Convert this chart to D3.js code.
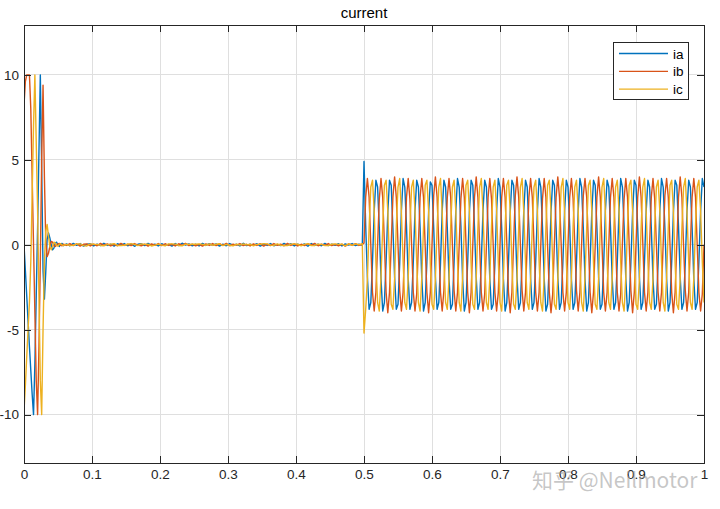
<!DOCTYPE html>
<html>
<head>
<meta charset="utf-8">
<script src="https://cdnjs.cloudflare.com/ajax/libs/d3/7.8.5/d3.min.js"></script>
<style>
  body { margin: 0; background: #fff; }
  svg { display: block; }
</style>
</head>
<body>
<svg id="chart" width="720" height="509"></svg>
<script>
// series names + colours (matlab default order)
var names = ['ia', 'ib', 'ic'];
var colors = ['#0072BD', '#D95319', '#EDB120'];

var xTicks = [0, 0.1, 0.2, 0.3, 0.4, 0.5, 0.6, 0.7, 0.8, 0.9, 1];
var yTicks = [-10, -5, 0, 5, 10];

// start-up transient, sampled every 2 ms from t = 0
var startT0 = 0, startDt = 0.002;
var startIa = [0, -1.5, -3.0, -4.5, -6.0, -7.4, -8.8, -10, -7.0, -3.0, 1.0, 5.5, 10, 4.5, -1.5, -3.2,
  -1.6, 0.3, 0.7, 0.4, 0.0, -0.3, -0.2, 0.1, 0.15, 0.0, -0.1, 0.05, 0.08, -0.05, 0.0];
var startIb = [8.2, 9.6, 10, 10, 10, 8.0, 4.0, 0.0, -4.0, -8.0, -10, -6.0, -1.0, 5.0, 9.4, 4.0,
  0.2, -0.7, -0.5, -0.1, 0.2, 0.15, -0.05, -0.1, 0.0, 0.05, 0.08, -0.04, -0.06, 0.03, 0.0];
var startIc = [-9.8, -8.3, -6.6, -5.0, -3.4, -1.0, 3.0, 7.0, 10, 6.0, 2.0, -3.0, -8.0, -10, -5.0, -1.0,
  0.8, 1.2, 0.5, -0.1, -0.3, -0.1, 0.15, 0.1, -0.05, -0.08, 0.04, 0.06, -0.02, -0.05, 0.0];

// idle part (small ripple round zero), every 5 ms from t = 0.0625
var idleT0 = 0.0625, idleDt = 0.005;
var idleIa = [
  0.05, -0.06, 0.08, -0.03, 0.07, -0.08, 0.02, 0.06, -0.07, 0.04, -0.05,
  0.09, -0.04, 0.03, -0.08, 0.06, -0.02, 0.07, -0.06, 0.05, -0.09, 0.03,
  0.06, -0.05, 0.08, -0.03, 0.04, -0.07, 0.06, -0.04, 0.02, -0.08, 0.07,
  -0.05, 0.09, -0.02, 0.05, -0.06, 0.03, -0.07, 0.08, -0.04, 0.06, -0.03,
  0.05, -0.08, 0.04, -0.06, 0.07, -0.02, 0.03, -0.07, 0.09, -0.05, 0.04,
  -0.03, 0.06, -0.08, 0.05, -0.04, 0.07, -0.06, 0.02, -0.05, 0.08, -0.03,
  0.06, -0.07, 0.04, -0.02, 0.05, -0.09, 0.07, -0.04, 0.03, -0.06, 0.08,
  -0.05, 0.04, -0.03, 0.06, -0.07, 0.05, -0.02, 0.07, -0.05, 0.03, -0.04];
var idleIb = [
  -0.04, 0.07, -0.05, 0.06, -0.08, 0.03, 0.05, -0.07, 0.04, -0.06, 0.08,
  -0.03, 0.05, -0.07, 0.02, -0.06, 0.08, -0.04, 0.03, -0.05, 0.07, -0.02,
  -0.06, 0.04, -0.08, 0.05, -0.03, 0.07, -0.05, 0.06, -0.04, 0.03, -0.07,
  0.06, -0.03, 0.08, -0.05, 0.04, -0.06, 0.02, -0.08, 0.05, -0.04, 0.07,
  -0.05, 0.06, -0.03, 0.08, -0.06, 0.04, -0.02, 0.07, -0.05, 0.03, -0.07,
  0.05, -0.04, 0.06, -0.08, 0.03, -0.05, 0.07, -0.03, 0.04, -0.06, 0.08,
  -0.04, 0.05, -0.07, 0.03, -0.05, 0.06, -0.02, 0.08, -0.06, 0.04, -0.03,
  0.07, -0.05, 0.02, -0.06, 0.04, -0.08, 0.05, -0.03, 0.06, -0.04, 0.02];
var idleIc = [
  0.02, -0.05, -0.03, 0.04, 0.06, -0.05, -0.07, 0.05, 0.03, 0.02, -0.04,
  -0.06, 0.01, 0.04, 0.06, -0.04, -0.05, -0.03, 0.03, 0.07, 0.02, -0.05,
  0.05, 0.02, 0.03, -0.07, -0.02, 0.04, -0.02, -0.06, 0.05, 0.05, 0.04,
  -0.04, -0.06, 0.04, 0.02, 0.03, 0.03, 0.05, 0.02, -0.03, 0.05, -0.04,
  0.03, 0.06, -0.05, 0.02, -0.03, -0.06, 0.04, -0.02, 0.05, -0.01, 0.03,
  -0.06, 0.02, 0.03, 0.07, 0.05, -0.02, -0.04, 0.05, -0.03, -0.04, -0.05,
  0.04, 0.05, 0.03, -0.06, 0.02, 0.07, -0.05, -0.04, 0.04, 0.02, -0.05,
  -0.05, 0.03, 0.05, 0.02, 0.04, -0.06, 0.05, -0.04, 0.05, 0.01, 0.06];

// loaded part from t = 0.5, every 2.5 ms (8 samples per 50 Hz cycle, one row per cycle)
var runT0 = 0.5, runDt = 0.0025;
var runIa = [
  4.9, 1.1, -1.9, -3.8, -3.4, -1.0, 2.0, 3.8,
  3.4, 1.0, -2.0, -3.9, -3.4, -1.0, 1.9, 3.8,
  3.5, 1.0, -1.9, -3.8, -3.5, -1.1, 2.0, 3.9,
  3.4, 1.1, -2.0, -3.8, -3.4, -1.0, 2.0, 3.8,
  3.4, 1.0, -2.0, -3.9, -3.4, -1.0, 1.9, 3.7,
  3.5, 1.0, -1.9, -3.8, -3.4, -1.1, 2.0, 3.8,
  3.4, 1.0, -2.0, -3.8, -3.5, -1.0, 2.0, 3.9,
  3.4, 1.1, -2.0, -3.9, -3.4, -1.0, 1.9, 3.8,
  3.5, 1.0, -1.9, -3.8, -3.4, -1.0, 2.0, 3.8,
  3.4, 1.0, -2.0, -3.8, -3.5, -1.1, 2.0, 3.9,
  3.4, 1.0, -2.0, -3.9, -3.4, -1.0, 1.9, 3.8,
  3.5, 1.1, -1.9, -3.8, -3.4, -1.0, 2.0, 3.8,
  3.4, 1.0, -2.0, -3.8, -3.4, -1.0, 2.0, 3.9,
  3.4, 1.0, -2.0, -3.9, -3.5, -1.1, 1.9, 3.8,
  3.5, 1.0, -1.9, -3.8, -3.4, -1.0, 2.0, 3.8,
  3.4, 1.1, -2.0, -3.8, -3.4, -1.0, 2.0, 3.9,
  3.4, 1.0, -2.0, -3.9, -3.4, -1.0, 1.9, 3.8,
  3.5, 1.0, -1.9, -3.8, -3.5, -1.1, 2.0, 3.8,
  3.4, 1.0, -2.0, -3.8, -3.4, -1.0, 2.0, 3.9,
  3.4, 1.1, -2.0, -3.9, -3.4, -1.0, 1.9, 3.8,
  3.5, 1.0, -1.9, -3.8, -3.4, -1.0, 2.0, 3.8,
  3.4, 1.0, -2.0, -3.8, -3.5, -1.1, 2.0, 3.9,
  3.4, 1.0, -2.0, -3.9, -3.4, -1.0, 1.9, 3.8,
  3.5, 1.1, -1.9, -3.8, -3.4, -1.0, 2.0, 3.8,
  3.4, 1.0, -2.0, -3.8, -3.4, -1.0, 2.0, 3.9,
  3.4];
var runIb = [
  0.1, 2.8, 3.9, 2.8, 0.0, -2.8, -3.9, -2.8,
  0.0, 2.7, 3.9, 2.8, 0.1, -2.8, -4.0, -2.8,
  0.0, 2.8, 4.0, 2.8, 0.0, -2.7, -3.9, -2.8,
  0.1, 2.8, 3.9, 2.7, 0.0, -2.8, -3.9, -2.9,
  0.0, 2.8, 3.9, 2.8, -0.1, -2.8, -4.0, -2.8,
  0.0, 2.9, 4.0, 2.8, 0.0, -2.8, -3.9, -2.7,
  0.1, 2.8, 3.9, 2.8, 0.0, -2.7, -3.9, -2.8,
  0.0, 2.7, 3.9, 2.8, 0.1, -2.8, -4.0, -2.8,
  0.0, 2.8, 4.0, 2.8, 0.0, -2.8, -3.9, -2.9,
  -0.1, 2.8, 3.9, 2.7, 0.0, -2.8, -3.9, -2.8,
  0.0, 2.8, 3.9, 2.8, 0.1, -2.8, -4.0, -2.8,
  0.1, 2.9, 4.0, 2.8, 0.0, -2.7, -3.9, -2.8,
  0.0, 2.8, 3.9, 2.8, 0.0, -2.8, -3.9, -2.8,
  0.0, 2.7, 3.9, 2.8, -0.1, -2.8, -4.0, -2.9,
  0.1, 2.8, 4.0, 2.8, 0.0, -2.8, -3.9, -2.8,
  0.0, 2.8, 3.9, 2.7, 0.0, -2.7, -3.9, -2.8,
  0.0, 2.9, 3.9, 2.8, 0.1, -2.8, -4.0, -2.8,
  -0.1, 2.8, 4.0, 2.8, 0.0, -2.8, -3.9, -2.8,
  0.0, 2.8, 3.9, 2.8, 0.0, -2.8, -3.9, -2.9,
  0.1, 2.7, 3.9, 2.8, 0.0, -2.7, -4.0, -2.8,
  0.0, 2.8, 4.0, 2.8, 0.1, -2.8, -3.9, -2.8,
  0.0, 2.8, 3.9, 2.7, 0.0, -2.8, -3.9, -2.8,
  0.1, 2.9, 3.9, 2.8, 0.0, -2.8, -4.0, -2.8,
  0.0, 2.8, 4.0, 2.8, -0.1, -2.7, -3.9, -2.8,
  0.0, 2.8, 3.9, 2.8, 0.0, -2.8, -3.9, -2.9,
  0.0];
var runIc = [
  -5.2, -3.8, -2.0, 1.0, 3.4, 3.8, 2.0, -1.0,
  -3.4, -3.9, -1.9, 1.0, 3.5, 3.8, 2.0, -1.1,
  -3.5, -3.8, -2.0, 1.1, 3.4, 3.9, 1.9, -1.0,
  -3.4, -3.8, -2.0, 1.0, 3.4, 3.8, 2.0, -1.0,
  -3.4, -3.9, -1.9, 1.0, 3.5, 3.8, 2.0, -1.1,
  -3.5, -3.8, -2.0, 1.0, 3.4, 3.9, 1.9, -1.0,
  -3.4, -3.8, -2.0, 1.1, 3.4, 3.8, 2.0, -1.0,
  -3.4, -3.9, -1.9, 1.0, 3.5, 3.8, 2.0, -1.1,
  -3.5, -3.8, -2.0, 1.0, 3.4, 3.9, 1.9, -1.0,
  -3.4, -3.8, -2.0, 1.1, 3.4, 3.8, 2.0, -1.0,
  -3.4, -3.9, -1.9, 1.0, 3.5, 3.8, 2.0, -1.1,
  -3.5, -3.8, -2.0, 1.0, 3.4, 3.9, 1.9, -1.0,
  -3.4, -3.8, -2.0, 1.1, 3.4, 3.8, 2.0, -1.0,
  -3.4, -3.9, -1.9, 1.0, 3.5, 3.8, 2.0, -1.1,
  -3.5, -3.8, -2.0, 1.0, 3.4, 3.9, 1.9, -1.0,
  -3.4, -3.8, -2.0, 1.1, 3.4, 3.8, 2.0, -1.0,
  -3.4, -3.9, -1.9, 1.0, 3.5, 3.8, 2.0, -1.1,
  -3.5, -3.8, -2.0, 1.0, 3.4, 3.9, 1.9, -1.0,
  -3.4, -3.8, -2.0, 1.1, 3.4, 3.8, 2.0, -1.0,
  -3.4, -3.9, -1.9, 1.0, 3.5, 3.8, 2.0, -1.1,
  -3.5, -3.8, -2.0, 1.0, 3.4, 3.9, 1.9, -1.0,
  -3.4, -3.8, -2.0, 1.1, 3.4, 3.8, 2.0, -1.0,
  -3.4, -3.9, -1.9, 1.0, 3.5, 3.8, 2.0, -1.1,
  -3.5, -3.8, -2.0, 1.0, 3.4, 3.9, 1.9, -1.0,
  -3.4, -3.8, -2.0, 1.1, 3.4, 3.8, 2.0, -1.0,
  -3.4];

// glue the three pieces of each phase together into {t, v} points
function seg(t0, dt, vals) {
    return vals.map(function (v, i) { return {t: t0 + i * dt, v: v}; });
}
var series = [
    seg(startT0, startDt, startIa).concat(seg(idleT0, idleDt, idleIa), seg(runT0, runDt, runIa)),
    seg(startT0, startDt, startIb).concat(seg(idleT0, idleDt, idleIb), seg(runT0, runDt, runIb)),
    seg(startT0, startDt, startIc).concat(seg(idleT0, idleDt, idleIc), seg(runT0, runDt, runIc))
];

// plot box in pixels (note: "top" is taken by window.top, so use other names)
var pLeft = 24, pRight = 704, pTop = 25, pBottom = 463;
var axisCol = '#262626';
var font = '"Liberation Sans", Arial, sans-serif';

var svg = d3.select('#chart');

var x = d3.scaleLinear().domain([0, 1]).range([pLeft, pRight]);
var y = d3.scaleLinear().domain([-12.85, 12.94]).range([pBottom, pTop]);

// grid
var grid = svg.append('g').attr('shape-rendering', 'crispEdges');
grid.selectAll('.gx').data(xTicks.slice(1, -1)).enter().append('line')
    .attr('x1', function (d) { return x(d); }).attr('x2', function (d) { return x(d); })
    .attr('y1', pTop).attr('y2', pBottom)
    .attr('stroke', '#dfdfdf');
grid.selectAll('.gy').data(yTicks).enter().append('line')
    .attr('y1', function (d) { return y(d); }).attr('y2', function (d) { return y(d); })
    .attr('x1', pLeft).attr('x2', pRight)
    .attr('stroke', '#dfdfdf');

// the three currents
svg.append('clipPath').attr('id', 'plotclip').append('rect')
    .attr('x', pLeft).attr('y', pTop).attr('width', pRight - pLeft).attr('height', pBottom - pTop);

var line = d3.line()
    .x(function (d) { return x(d.t); })
    .y(function (d) { return y(d.v); });

svg.append('g').attr('clip-path', 'url(#plotclip)')
    .selectAll('path').data(series).enter().append('path')
    .attr('d', line)
    .attr('fill', 'none')
    .attr('stroke', function (d, i) { return colors[i]; })
    .attr('stroke-width', 1.4)
    .attr('stroke-linejoin', 'round');

// axes, ticks pointing inward on all four sides
function styleAxis(g) {
    g.select('.domain').remove();
    g.selectAll('line').attr('stroke', axisCol);
    g.selectAll('text').attr('fill', axisCol).style('font-family', font).style('font-size', '13.5px');
    g.attr('shape-rendering', 'crispEdges');
}
var fmt = function (d) { return String(d); };

svg.append('g').attr('transform', 'translate(0,' + pBottom + ')')
    .call(d3.axisBottom(x).tickValues(xTicks).tickFormat(fmt).tickSize(-7).tickPadding(6))
    .call(styleAxis);
svg.append('g').attr('transform', 'translate(0,' + pTop + ')')
    .call(d3.axisTop(x).tickValues(xTicks).tickFormat('').tickSize(-7))
    .call(styleAxis);
svg.append('g').attr('transform', 'translate(' + pLeft + ',0)')
    .call(d3.axisLeft(y).tickValues(yTicks).tickFormat(fmt).tickSize(-7).tickPadding(5))
    .call(styleAxis);
svg.append('g').attr('transform', 'translate(' + pRight + ',0)')
    .call(d3.axisRight(y).tickValues(yTicks).tickFormat('').tickSize(-7))
    .call(styleAxis);

svg.append('rect')
    .attr('x', pLeft).attr('y', pTop).attr('width', pRight - pLeft).attr('height', pBottom - pTop)
    .attr('fill', 'none').attr('stroke', axisCol).attr('stroke-width', 1)
    .attr('shape-rendering', 'crispEdges');

// title
svg.append('text')
    .attr('x', (pLeft + pRight) / 2).attr('y', 18)
    .attr('text-anchor', 'middle')
    .style('font-family', font).style('font-size', '15px')
    .attr('fill', '#000')
    .text('current');

// legend
var lg = svg.append('g');
lg.append('rect')
    .attr('x', 613).attr('y', 42).attr('width', 75).attr('height', 57)
    .attr('fill', '#fff').attr('stroke', axisCol).attr('stroke-width', 1)
    .attr('shape-rendering', 'crispEdges');
var items = lg.selectAll('.item').data(names).enter().append('g')
    .attr('transform', function (d, i) { return 'translate(0,' + (53.5 + i * 17.8) + ')'; });
items.append('line')
    .attr('x1', 619).attr('x2', 668)
    .attr('stroke', function (d, i) { return colors[i]; })
    .attr('stroke-width', 1.3);
items.append('text')
    .attr('x', 673).attr('y', 5)
    .style('font-family', font).style('font-size', '13.5px')
    .attr('fill', '#000')
    .text(function (d) { return d; });

// site watermark
svg.append('text')
    .attr('x', 532).attr('y', 488)
    .style('font-family', '"Noto Sans CJK SC", "Noto Sans", sans-serif')
    .style('font-size', '21px')
    .attr('fill', 'rgba(150,150,150,0.55)')
    .text('知乎 @Neilmotor');
</script>
</body>
</html>
